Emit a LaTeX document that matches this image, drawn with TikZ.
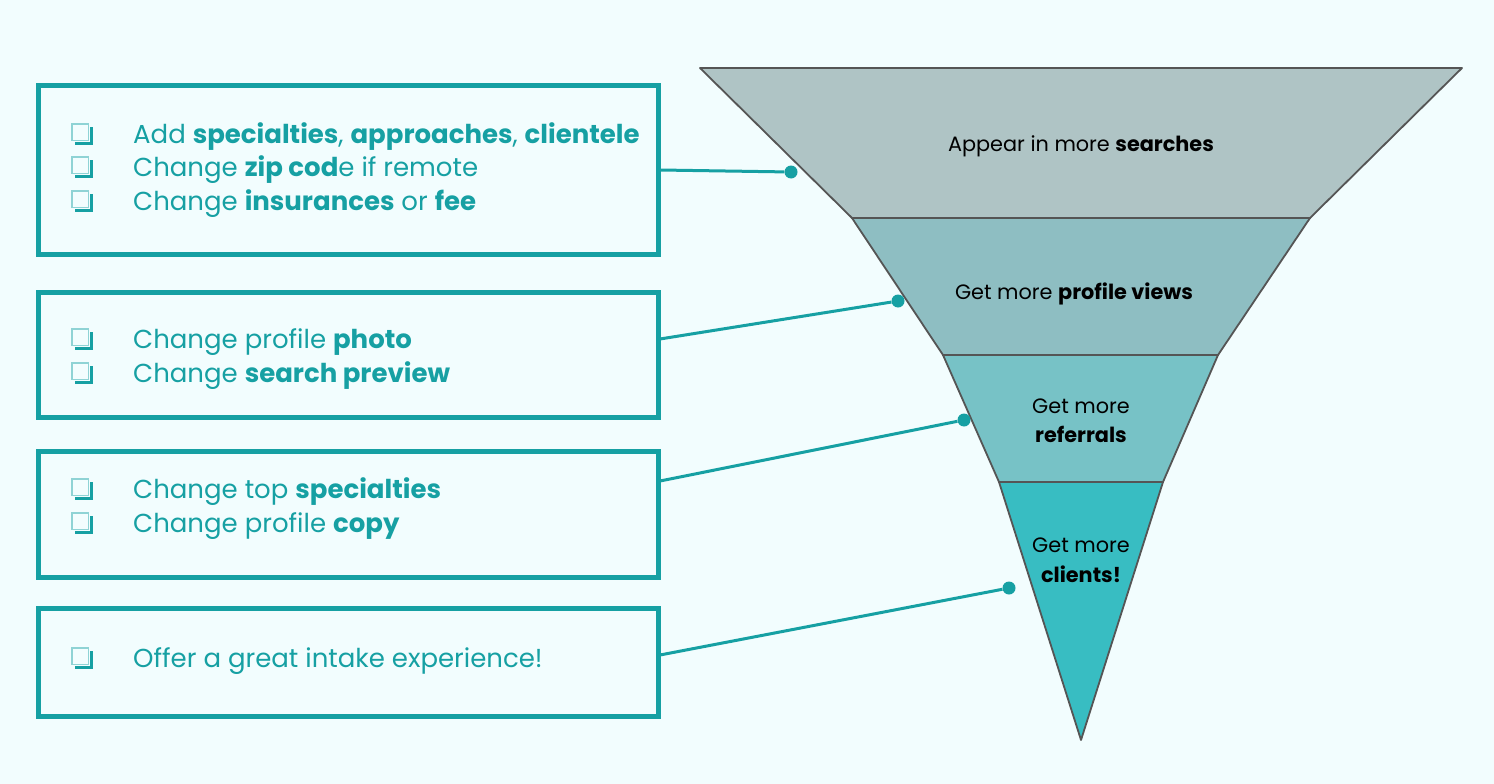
\documentclass[tikz,border=0pt]{standalone}
\usepackage{fontspec}
\setmainfont{Poppins}
\definecolor{bgc}{HTML}{F2FDFE}
\definecolor{tealc}{HTML}{16A0A3}
\definecolor{chklight}{HTML}{8FD3D5}
\definecolor{segA}{HTML}{AFC4C5}
\definecolor{segB}{HTML}{8EBEC2}
\definecolor{segC}{HTML}{77C2C6}
\definecolor{segD}{HTML}{38BDC2}
\definecolor{edgec}{HTML}{555555}
\newcommand{\chkbox}[2]{%
  \draw[draw=tealc,line width=3pt] (#1+19.5,#2-16) -- (#1+19.5,#2+0.5) -- (#1+3,#2+0.5);
  \draw[draw=chklight,line width=1.3pt,fill=bgc] (#1,#2-19) rectangle (#1+16.5,#2-2.5);
}
\begin{document}
\begin{tikzpicture}[x=1pt,y=-1pt,
  box/.style={draw=tealc,line width=5pt,minimum width=619.5pt,inner sep=0pt},
  seg/.style={draw=edgec,line width=1.8pt,line join=round},
  item/.style={anchor=base west,inner sep=0pt,text=tealc,font=\fontsize{26}{30}\selectfont},
  flabel/.style={inner sep=0pt,anchor=base,text=black,font=\fontsize{20.8}{24}\selectfont,align=center},
  dot/.style={circle,fill=tealc,inner sep=0pt,minimum size=13pt},
  conn/.style={draw=tealc,line width=3pt}]
\fill[bgc] (0,0) rectangle (1494,784);
\useasboundingbox (0,0) rectangle (1494,784);

% funnel
\draw[seg,fill=segA] (700,68) -- (1462,68) -- (1310,218) -- (852,218) -- cycle;
\draw[seg,fill=segB] (852,218) -- (1310,218) -- (1218,355) -- (943,355) -- cycle;
\draw[seg,fill=segC] (943,355) -- (1218,355) -- (1163,482) -- (999,482) -- cycle;
\draw[seg,fill=segD] (999,482) -- (1163,482) -- (1081,740) -- cycle;

\node[flabel] (f1) at (1081,151) {Appear in more \textbf{searches}};
\node[flabel] (f2) at (1074,299) {Get more \textbf{profile views}};
\node[flabel] (f3a) at (1081,413) {Get more};
\node[flabel] (f3b) at (1081,442) {\textbf{referrals}};
\node[flabel] (f4a) at (1081,552) {Get more};
\node[flabel] (f4b) at (1081,582) {\textbf{clients!}};

% boxes
\node[box,minimum height=168.5pt] (b1) at (348.25,169.75) {};
\node[box,minimum height=125pt] (b2) at (348.25,355) {};
\node[box,minimum height=125.5pt] (b3) at (348.25,514.25) {};
\node[box,minimum height=108.5pt] (b4) at (348.25,662.25) {};

% items
\chkbox{72}{143}
\node[item] (t11) at (133,143) {Add \textbf{specialties}, \textbf{approaches}, \textbf{clientele}};
\chkbox{72}{176}
\node[item] (t12) at (133,176) {Change \textbf{zip cod}e if remote};
\chkbox{72}{210}
\node[item] (t13) at (133,210) {Change \textbf{insurances} or \textbf{fee}};

\chkbox{72}{348}
\node[item] (t21) at (133,348) {Change profile \textbf{photo}};
\chkbox{72}{382}
\node[item] (t22) at (133,382) {Change \textbf{search preview}};

\chkbox{72}{498}
\node[item] (t31) at (133,498) {Change top \textbf{specialties}};
\chkbox{72}{532}
\node[item] (t32) at (133,532) {Change profile \textbf{copy}};

\chkbox{72}{667}
\node[item] (t41) at (133,667) {Offer a great intake experience!};

% dots and connectors
\node[dot] (d1) at (791,172) {};
\node[dot] (d2) at (898,301) {};
\node[dot] (d3) at (964,420) {};
\node[dot] (d4) at (1009,588) {};
\coordinate (s1) at (660,170);
\coordinate (s2) at (660,339);
\coordinate (s3) at (660,481);
\coordinate (s4) at (660,655);
\draw[conn] (s1) -- (d1);
\draw[conn] (s2) -- (d2);
\draw[conn] (s3) -- (d3);
\draw[conn] (s4) -- (d4);
\end{tikzpicture}
\end{document}
